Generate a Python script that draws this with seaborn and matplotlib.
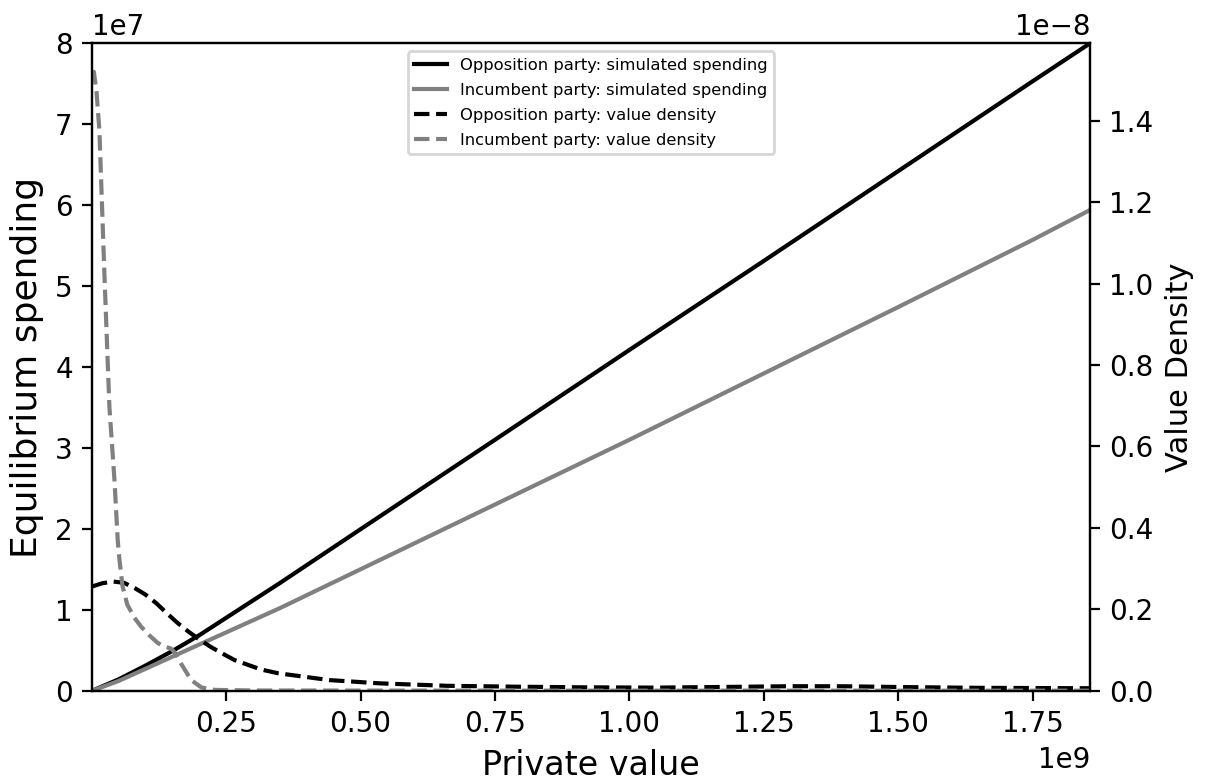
import numpy as np
import matplotlib
matplotlib.use("Agg")
import matplotlib.pyplot as plt
import seaborn as sns
from matplotlib.ticker import MultipleLocator

# ---- data (x in units of 1e9, spending in 1e7, density in 1e-8) ----
spend_x = [0.001, 0.05, 0.1, 0.15, 0.2, 0.35, 0.5, 0.75, 1.0, 1.25, 1.5, 1.75, 1.857]
opp_spend = [0, 0.14, 0.31, 0.49, 0.685, 1.33, 1.995, 3.10, 4.21, 5.31, 6.42, 7.53, 8.0]
inc_spend = [0, 0.12, 0.27, 0.42, 0.57, 1.02, 1.50, 2.30, 3.10, 3.92, 4.74, 5.57, 5.94]

opp_dens_x = [0.001, 0.02, 0.04, 0.06, 0.08, 0.1, 0.12, 0.14, 0.16, 0.18, 0.2, 0.222,
              0.245, 0.266, 0.315, 0.346, 0.442, 0.536, 0.66, 0.783, 0.908, 1.05, 1.2,
              1.3, 1.4, 1.5, 1.65, 1.857]
opp_dens = [0.256, 0.264, 0.268, 0.265, 0.252, 0.236, 0.215, 0.19, 0.166, 0.145, 0.126, 0.107,
            0.09, 0.075, 0.052, 0.043, 0.026, 0.018, 0.012, 0.0099, 0.0083, 0.0075, 0.0095,
            0.011, 0.0108, 0.009, 0.007, 0.006]

inc_dens_x = [0.001, 0.004, 0.009, 0.0143, 0.0236, 0.0329, 0.0423, 0.0484, 0.0516, 0.0571,
              0.066, 0.0795, 0.092, 0.108, 0.123, 0.135, 0.148, 0.156, 0.166, 0.185, 0.204,
              0.228, 0.3, 0.6, 1.0, 1.857]
inc_dens = [1.515, 1.52, 1.47, 1.376, 1.024, 0.697, 0.518, 0.369, 0.322, 0.258,
            0.212, 0.179, 0.157, 0.135, 0.117, 0.109, 0.103, 0.091, 0.067, 0.026, 0.008,
            0.002, 0.0005, 0.0002, 0.0001, 0.0]

# scale to real units
sx = np.array(spend_x) * 1e9
ox = np.array(opp_dens_x) * 1e9
ix = np.array(inc_dens_x) * 1e9

fig, ax = plt.subplots(figsize=(6.045, 3.915), dpi=200)
fig.subplots_adjust(left=0.0763, right=0.9016, top=0.9447, bottom=0.1179)

sns.lineplot(x=sx, y=np.array(opp_spend) * 1e7, ax=ax, color="black", lw=1.5,
             label="Opposition party: simulated spending", legend=False)
sns.lineplot(x=sx, y=np.array(inc_spend) * 1e7, ax=ax, color="gray", lw=1.5,
             label="Incumbent party: simulated spending", legend=False)

ax2 = ax.twinx()
sns.lineplot(x=ox, y=np.array(opp_dens) * 1e-8, ax=ax2, color="black", lw=1.5,
             linestyle="--", label="Opposition party: value density", legend=False)
sns.lineplot(x=ix, y=np.array(inc_dens) * 1e-8, ax=ax2, color="gray", lw=1.5,
             linestyle="--", label="Incumbent party: value density", legend=False)

ax.set_xlim(sx[0], sx[-1])
ax.set_ylim(0, 8e7)
ax2.set_ylim(0, 1.59e-8)
ax.xaxis.set_major_locator(MultipleLocator(0.25e9))
ax.yaxis.set_major_locator(MultipleLocator(1e7))
ax2.yaxis.set_major_locator(MultipleLocator(0.2e-8))

ax.set_xlabel("Private value", fontsize=12)
ax.set_ylabel("Equilibrium spending", fontsize=13)
ax2.set_ylabel("Value Density", fontsize=11)

# legend combining both axes
h1, l1 = ax.get_legend_handles_labels()
h2, l2 = ax2.get_legend_handles_labels()
ax2.legend(h1 + h2, l1 + l2, loc="upper center", fontsize=5.9, labelspacing=0.6)

fig.savefig("out.png", dpi=200)
